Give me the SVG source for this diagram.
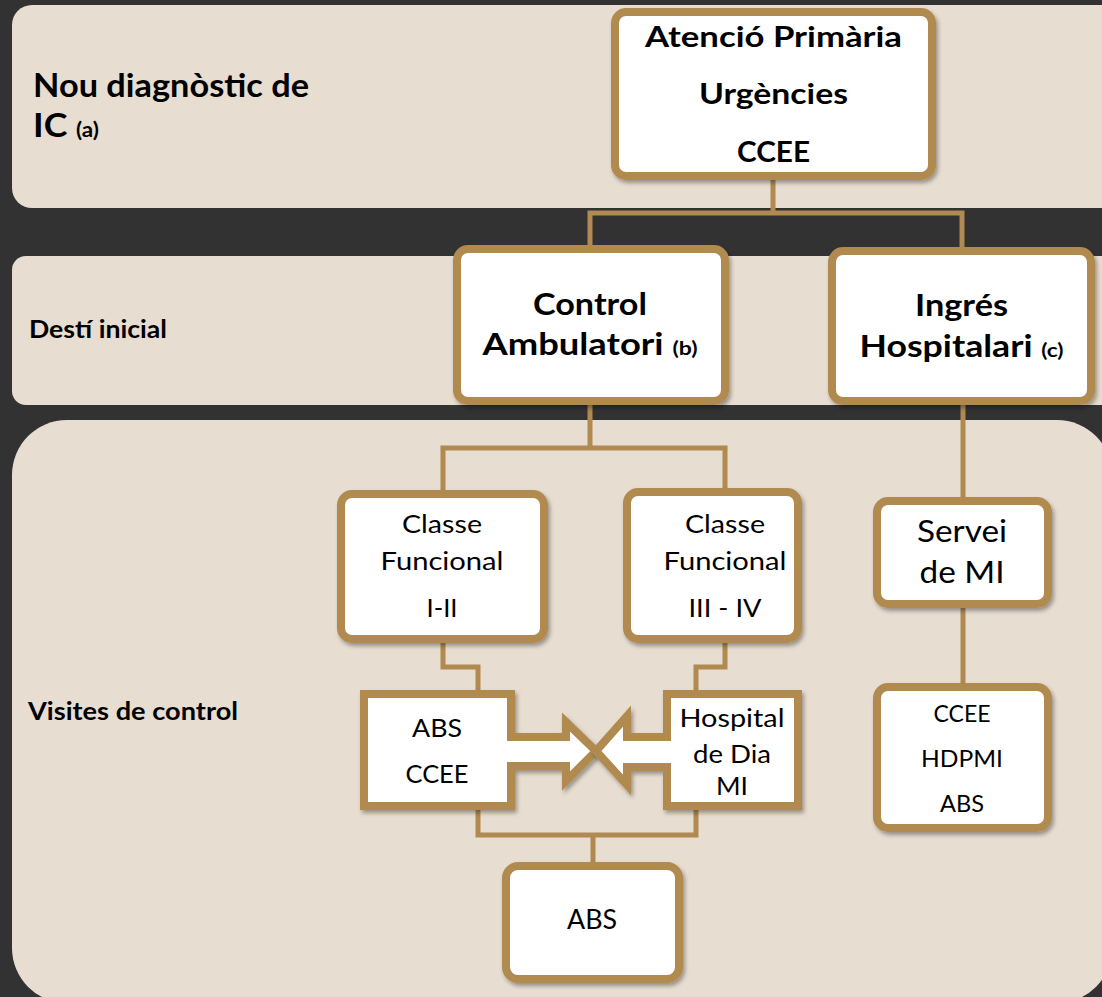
<svg xmlns="http://www.w3.org/2000/svg" width="1102" height="997" viewBox="0 0 1102 997">
<defs>
<filter id="sh" x="-10%" y="-10%" width="125%" height="130%">
<feDropShadow dx="2" dy="3" stdDeviation="2" flood-color="#000" flood-opacity="0.35"/>
</filter>
<style>
.band{fill:#E8DDD1}
.node{fill:#FFFFFF;stroke:#B08A50;stroke-width:8;filter:url(#sh)}
.conn{fill:none;stroke:#B08A50;stroke-width:5}
text{font-family:Lato,"Liberation Sans",sans-serif;fill:#000}
.b{font-weight:bold}
.m{text-anchor:middle}
</style>
</defs>
<rect x="0" y="0" width="1102" height="997" fill="#323232"/>
<rect class="band" x="12" y="5" width="1110" height="203" rx="20"/>
<rect class="band" x="12" y="256" width="1110" height="149" rx="14"/>
<rect class="band" x="12" y="420" width="1100" height="583" rx="55"/>
<g id="labels">
<text class="b" x="33" y="97" font-size="32" textLength="276" lengthAdjust="spacingAndGlyphs">Nou diagnòstic de</text>
<text class="b" x="33" y="137" font-size="32" textLength="66" lengthAdjust="spacingAndGlyphs">IC <tspan font-size="20">(a)</tspan></text>
<text class="b" x="29" y="338" font-size="24" textLength="138" lengthAdjust="spacingAndGlyphs">Destí inicial</text>
<text class="b" x="28" y="720" font-size="24" textLength="210" lengthAdjust="spacingAndGlyphs">Visites de control</text>
</g>
<g id="connectors">
<path class="conn" d="M773,180 V213 M590,249 V213 H962 V251"/>
<path class="conn" d="M590,405 V448 M443,494 V448 H725 V492"/>
<path class="conn" d="M963,405 V501"/>
<path class="conn" d="M963,608 V687"/>
<path class="conn" d="M443,643 V667 H478 V694"/>
<path class="conn" d="M725,643 V667 H696 V694"/>
<path class="conn" d="M478,806 V835 H696 V806 M593,835 V866"/>
</g>
<g id="n-top">
<rect class="node" x="615" y="12" width="317" height="164" rx="11"/>
<text class="b m" x="773.5" y="47" font-size="29" textLength="257" lengthAdjust="spacingAndGlyphs">Atenció Primària</text>
<text class="b m" x="773.5" y="104" font-size="29" textLength="149" lengthAdjust="spacingAndGlyphs">Urgències</text>
<text class="b m" x="773.5" y="162" font-size="29" textLength="73" lengthAdjust="spacingAndGlyphs">CCEE</text>
</g>
<g id="n-ctrl">
<rect class="node" x="457" y="249" width="268" height="152" rx="11"/>
<text class="b m" x="590" y="315" font-size="30" textLength="114" lengthAdjust="spacingAndGlyphs">Control</text>
<text class="b m" x="590" y="355" font-size="30" textLength="215" lengthAdjust="spacingAndGlyphs">Ambulatori <tspan font-size="19">(b)</tspan></text>
</g>
<g id="n-ingres">
<rect class="node" x="832" y="251" width="259" height="150" rx="11"/>
<text class="b m" x="961.5" y="316" font-size="30" textLength="93" lengthAdjust="spacingAndGlyphs">Ingrés</text>
<text class="b m" x="961.5" y="357" font-size="30" textLength="204" lengthAdjust="spacingAndGlyphs">Hospitalari <tspan font-size="19">(c)</tspan></text>
</g>
<g id="n-cf1">
<rect class="node" x="341" y="494" width="203" height="145" rx="11"/>
<text class="m" x="442" y="533" font-size="25.5" textLength="80" lengthAdjust="spacingAndGlyphs">Classe</text>
<text class="m" x="442" y="570" font-size="25.5" textLength="123" lengthAdjust="spacingAndGlyphs">Funcional</text>
<text class="m" x="442" y="617" font-size="25.5" textLength="31" lengthAdjust="spacingAndGlyphs">I-II</text>
</g>
<g id="n-cf2">
<rect class="node" x="627" y="492" width="171" height="147" rx="11"/>
<text class="m" x="725" y="533" font-size="25.5" textLength="80" lengthAdjust="spacingAndGlyphs">Classe</text>
<text class="m" x="725" y="570" font-size="25.5" textLength="123" lengthAdjust="spacingAndGlyphs">Funcional</text>
<text class="m" x="725" y="617" font-size="25.5" textLength="73" lengthAdjust="spacingAndGlyphs">III - IV</text>
</g>
<g id="n-servei">
<rect class="node" x="877" y="501" width="171" height="103" rx="11"/>
<text class="m" x="962" y="542" font-size="30" textLength="90" lengthAdjust="spacingAndGlyphs">Servei</text>
<text class="m" x="962" y="583" font-size="30" textLength="85" lengthAdjust="spacingAndGlyphs">de MI</text>
</g>
<g id="n-ccee2">
<rect class="node" x="877" y="687" width="171" height="141" rx="11"/>
<text class="m" x="962" y="722" font-size="23" textLength="57" lengthAdjust="spacingAndGlyphs">CCEE</text>
<text class="m" x="962" y="767" font-size="23" textLength="82" lengthAdjust="spacingAndGlyphs">HDPMI</text>
<text class="m" x="962" y="812" font-size="23" textLength="44" lengthAdjust="spacingAndGlyphs">ABS</text>
</g>
<g id="n-absccee">
<path class="node" stroke-linejoin="miter" d="M364,694 H511 V737 H566 V722 L596,751 L566,781 V766 H511 V806 H364 Z"/>
<text class="m" x="437" y="737" font-size="25.5" textLength="50" lengthAdjust="spacingAndGlyphs">ABS</text>
<text class="m" x="437" y="783" font-size="25.5" textLength="63" lengthAdjust="spacingAndGlyphs">CCEE</text>
</g>
<g id="n-hospdia">
<path class="node" stroke-linejoin="miter" d="M667,694 H798 V806 H667 V767 H627 V785 L596,751 L627,716 V737 H667 Z"/>
<text class="m" x="732" y="727" font-size="25.5" textLength="105" lengthAdjust="spacingAndGlyphs">Hospital</text>
<text class="m" x="732" y="763" font-size="25.5" textLength="78" lengthAdjust="spacingAndGlyphs">de Dia</text>
<text class="m" x="732" y="795" font-size="25.5" textLength="32" lengthAdjust="spacingAndGlyphs">MI</text>
</g>
<g id="n-abs">
<rect class="node" x="506" y="866" width="173" height="113" rx="12"/>
<text class="m" x="592" y="929" font-size="27" textLength="50" lengthAdjust="spacingAndGlyphs">ABS</text>
</g>
</svg>
